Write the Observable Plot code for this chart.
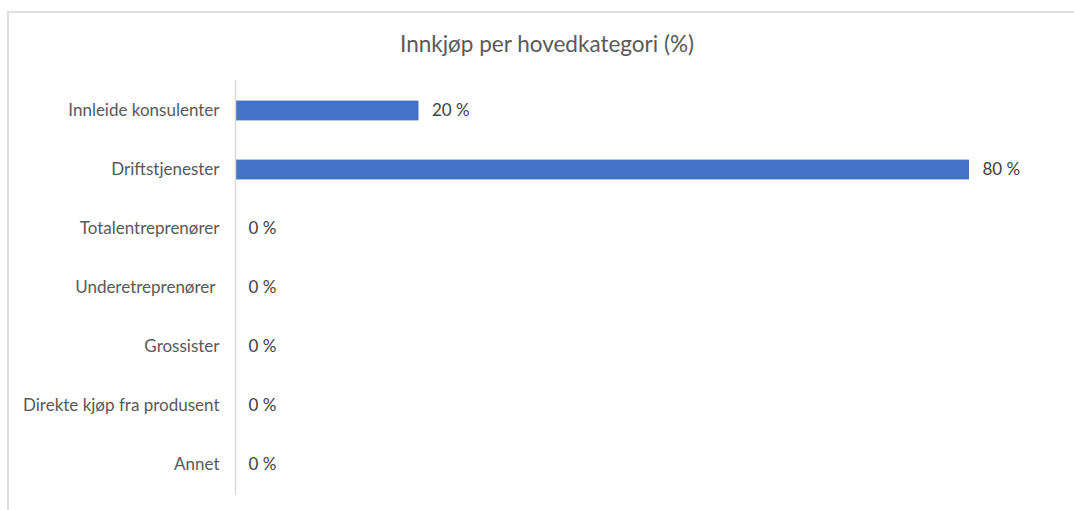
<!DOCTYPE html>
<html>
<head>
<meta charset="utf-8">
<script src="https://cdn.jsdelivr.net/npm/d3@7"></script>
<script src="https://cdn.jsdelivr.net/npm/@observablehq/plot@0.6"></script>
<style>
  html, body { margin: 0; padding: 0; background: #fff; overflow: hidden; }
  body { width: 1074px; height: 510px; position: relative; font-family: Lato, "Open Sans", sans-serif; }
  #frame { position: absolute; left: 7px; top: 11px; width: 1100px; height: 520px;
           border-top: 2px solid #e0e0e0; border-left: 2px solid #e0e0e0; }
  #title { position: absolute; left: 0; top: 29px; width: 1094px; text-align: center;
           font-size: 22.5px; line-height: 30px; color: #595959; }
  #chart { position: absolute; left: 0; top: 70px; }
</style>
</head>
<body>
<div id="frame"></div>
<div id="title">Innkjøp per hovedkategori (%)</div>
<div id="chart"></div>
<script>
const categories = [
  "Innleide konsulenter",
  "Driftstjenester",
  "Totalentreprenører",
  "Underetreprenører\u00a0",
  "Grossister",
  "Direkte kjøp fra produsent",
  "Annet"
];
const values = [20, 80, 0, 0, 0, 0, 0];
const valueLabels = ["20 %", "80 %", "0 %", "0 %", "0 %", "0 %", "0 %"];

const data = categories.map((c, i) => ({category: c, value: values[i], label: valueLabels[i]}));

const plot = Plot.plot({
  width: 1074,
  height: 440,
  marginTop: 10,
  marginBottom: 15,
  marginLeft: 235,
  marginRight: 105,
  style: {fontFamily: "Lato, 'Open Sans', sans-serif", fontSize: "17px", color: "#595959", background: "transparent"},
  x: {domain: [0, 80], axis: null},
  y: {domain: categories, padding: 0, label: null, tickSize: 0, tickPadding: 16},
  marks: [
    Plot.barX(data, {x: "value", y: "category", fill: "#4472C4", insetTop: 19.6, insetBottom: 19.6}),
    Plot.ruleX([0], {stroke: "#d9d9d9", strokeWidth: 1.5}),
    Plot.axisY({tickSize: 0, tickPadding: 16, label: null, fontSize: 17, color: "#595959"}),
    Plot.text(data, {x: "value", y: "category", text: "label", textAnchor: "start", dx: 13, fill: "#404040", fontSize: 17})
  ]
});
document.getElementById("chart").appendChild(plot);
</script>
</body>
</html>
